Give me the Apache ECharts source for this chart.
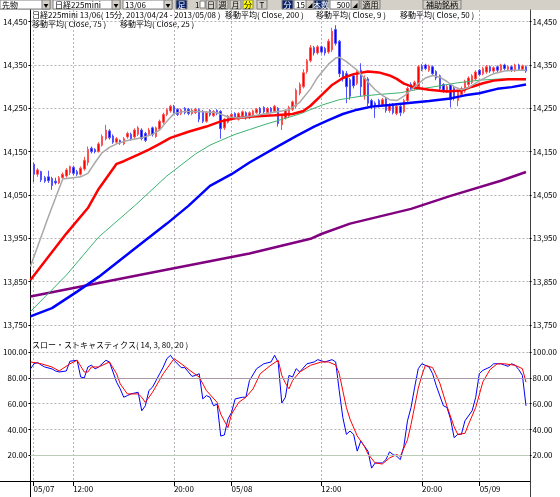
<!DOCTYPE html>
<html>
<head>
<meta charset="utf-8">
<script src="https://cdn.jsdelivr.net/npm/echarts@6/dist/echarts.min.js"></script>
<style>
html,body{margin:0;padding:0;background:#fff;}
#chart{width:560px;height:497px;}
</style>
</head>
<body>
<div id="chart"></div>
<script>
var barCount = 140;
var tickIdx = [1, 12, 40, 56, 81, 109, 125];
var tickText = ['05/07', '12:00', '20:00', '05/08', '12:00', '20:00', '05/09'];

// 15分足 [open, close, low, high]
var candles = ['-',
  [14121,14098,14080,14125],[14098,14108,14092,14112],[14104,14085,14080,14106],[14090,14082,14078,14094],
  [14092,14083,14078,14106],[14088,14072,14062,14092],[14082,14078,14074,14090],[14078,14090,14075,14094],
  [14090,14098,14086,14102],[14094,14108,14090,14112],[14102,14116,14096,14118],[14114,14100,14096,14118],
  [14104,14098,14094,14108],[14098,14112,14095,14116],[14110,14130,14106,14138],[14125,14155,14118,14162],
  [14158,14150,14146,14162],[14155,14150,14146,14158],[14150,14168,14148,14172],[14165,14185,14162,14190],
  [14180,14200,14176,14212],[14198,14182,14178,14202],[14186,14172,14168,14190],[14172,14180,14168,14184],
  [14176,14170,14166,14178],[14168,14180,14165,14184],[14184,14192,14180,14196],[14190,14180,14176,14194],
  [14184,14200,14180,14204],[14190,14205,14186,14209],[14200,14180,14176,14204],[14192,14176,14172,14196],
  [14190,14200,14186,14205],[14205,14190,14185,14208],[14185,14205,14182,14208],[14202,14220,14198,14224],
  [14218,14236,14214,14240],[14236,14247,14232,14250],[14244,14255,14240,14258],[14255,14238,14234,14258],
  [14248,14236,14232,14250],[14238,14246,14234,14249],[14250,14240,14236,14253],[14248,14238,14234,14251],
  [14238,14246,14234,14249],[14240,14248,14237,14251],[14247,14225,14218,14250],[14243,14220,14216,14246],
  [14220,14240,14217,14244],[14245,14235,14231,14248],[14233,14243,14230,14246],[14245,14238,14234,14248],
  [14243,14203,14180,14246],[14205,14225,14200,14228],[14218,14232,14215,14235],[14225,14236,14222,14240],
  [14238,14230,14226,14241],[14225,14238,14222,14241],[14232,14242,14229,14245],[14240,14228,14224,14243],
  [14228,14240,14225,14243],[14235,14244,14232,14247],[14240,14248,14237,14251],[14250,14240,14236,14253],
  [14252,14242,14238,14255],[14240,14250,14237,14253],[14250,14243,14239,14253],[14243,14255,14240,14258],
  [14250,14215,14208,14253],[14212,14232,14200,14236],[14228,14245,14224,14248],[14232,14252,14228,14256],
  [14248,14265,14244,14268],[14255,14292,14250,14296],[14285,14305,14280,14310],[14300,14332,14296,14340],
  [14335,14360,14330,14364],[14360,14390,14356,14396],[14390,14378,14372,14394],[14378,14392,14374,14396],
  [14392,14380,14376,14395],[14388,14378,14372,14392],[14380,14405,14376,14410],[14385,14428,14380,14436],
  [14432,14400,14395,14442],[14405,14330,14322,14408],[14335,14318,14312,14338],[14330,14300,14262,14336],
  [14316,14278,14270,14320],[14325,14302,14296,14330],[14308,14335,14304,14340],[14338,14300,14277,14354],
  [14280,14320,14270,14326],[14318,14262,14255,14322],[14268,14255,14248,14272],[14262,14255,14228,14266],
  [14268,14258,14252,14272],[14258,14270,14254,14274],[14272,14245,14240,14276],[14245,14258,14240,14262],
  [14258,14240,14236,14262],[14238,14255,14234,14258],[14255,14240,14232,14262],[14242,14268,14238,14272],
  [14268,14296,14264,14300],[14305,14295,14290,14310],[14296,14310,14292,14314],[14300,14346,14296,14350],
  [14348,14340,14336,14352],[14350,14342,14338,14353],[14338,14348,14334,14351],[14346,14330,14326,14349],
  [14335,14320,14315,14338],[14325,14296,14290,14328],[14305,14290,14286,14308],[14290,14300,14286,14304],
  [14304,14270,14252,14307],[14296,14273,14268,14300],[14268,14288,14255,14292],[14282,14296,14278,14300],
  [14290,14312,14286,14316],[14305,14320,14300,14324],[14310,14325,14306,14329],[14318,14334,14314,14338],
  [14338,14328,14324,14341],[14330,14342,14326,14346],[14334,14346,14330,14350],[14346,14336,14332,14349],
  [14336,14344,14332,14347],[14346,14338,14334,14349],[14338,14350,14334,14353],[14350,14342,14338,14353],
  [14340,14346,14337,14349],[14346,14338,14334,14349],[14338,14350,14334,14353],[14350,14340,14336,14353],
  [14340,14348,14337,14351],[14346,14336,14332,14349]
];

// 移動平均 [bar, value]
var ma9 = [[0,13885],[5,14000],[9,14087],[14,14092],[16,14100],[18,14125],[20,14148],[22,14160],[24,14168],
  [27,14176],[31,14182],[34,14190],[36,14200],[38,14220],[40,14238],[43,14243],[47,14243],[52,14240],[55,14230],
  [58,14228],[63,14234],[67,14240],[70,14244],[72,14247],[75,14264],[78,14295],[80,14322],[83,14352],[85,14366],
  [86,14368],[88,14358],[91,14338],[93,14320],[96,14293],[98,14280],[100,14270],[102,14268],[104,14278],[107,14300],
  [110,14320],[112,14326],[114,14322],[116,14312],[118,14300],[120,14293],[122,14298],[124,14308],[126,14318],
  [129,14330],[132,14336],[135,14338],[138,14338]];
var ma25 = [[0,13854],[10,13961],[16,14020],[19,14064],[24,14122],[26,14128],[30,14143],[33,14155],[36,14168],
  [39,14182],[44,14196],[49,14208],[53,14220],[57,14227],[62,14231],[68,14234],[73,14237],[76,14244],[78,14256],
  [81,14280],[84,14304],[87,14320],[90,14329],[94,14335],[97,14333],[100,14326],[102,14318],[104,14307],[107,14298],
  [111,14293],[116,14289],[120,14291],[123,14300],[126,14308],[129,14314],[133,14317],[138,14317]];
var ma50 = [[0,13781],[10,13865],[19,13953],[29,14025],[38,14094],[46,14145],[50,14165],[53,14176],[57,14190],
  [61,14201],[65,14212],[69,14222],[75,14237],[81,14257],[86,14270],[92,14278],[97,14282],[103,14286],[108,14294],
  [114,14302],[119,14309],[125,14315],[131,14318],[138,14316]];
var ma75 = [[0,13770],[6,13789],[13,13827],[19,13861],[29,13926],[38,13984],[44,14025],[50,14071],[56,14098],
  [61,14125],[69,14163],[74,14186],[79,14208],[83,14223],[87,14237],[91,14247],[95,14254],[100,14258],[106,14263],
  [111,14267],[117,14273],[121,14280],[125,14285],[130,14295],[134,14299],[138,14305]];
var ma200 = [[0,13816],[30,13865],[61,13915],[78,13949],[81,13960],[89,13984],[106,14018],[117,14048],[131,14083],
  [138,14103]];

// スロー・ストキャスティクス
var stochK = [[0,87],[1,91],[2,92],[3,90],[4,88.5],[6,87],[7,85.4],[8,84.6],[10,85.4],[11,93],[13,93.7],[14,80.7],
  [15,80],[16,88.5],[17,90],[18,87],[19,88.5],[21,93.7],[22,92.4],[23,84.6],[24,76.7],[25,71.5],[26,65],[27,66.3],
  [28,67.6],[30,68.9],[31,54.5],[32,58.4],[33,70.2],[34,72.8],[36,83.3],[37,88.5],[38,95],[39,97.6],[40,93.7],
  [42,88],[43,88],[45,81.2],[46,82],[47,83.3],[48,63.7],[49,66.3],[50,65],[51,58.4],[52,59.7],[53,34.9],[54,35.7],
  [55,48],[56,53.2],[57,63.7],[59,65],[60,65],[61,78],[63,87.2],[65,91],[67,92.4],[68,97.6],[69,92],[70,60.5],
  [71,65],[72,82],[73,80.7],[74,87.2],[75,84.6],[77,91],[79,92.4],[80,94.2],[82,92.4],[84,94.2],[85,92.4],[86,70],
  [87,49.3],[88,36.2],[89,38.8],[90,36.2],[91,23.2],[92,31],[93,27],[94,23.2],[95,10],[96,14],[98,14],[99,16.6],
  [100,22.6],[101,20.5],[102,19.2],[103,16.6],[104,27],[105,46.7],[106,57.1],[107,72.8],[108,87.2],[109,91],
  [111,88.5],[112,83.3],[113,74.1],[115,58.4],[116,57.1],[117,48],[118,33.6],[119,36.2],[120,36.2],[121,46.7],
  [123,54.5],[124,65],[125,83.3],[126,85.9],[128,88.5],[129,91],[131,91],[132,90],[133,89],[134,91],[135,89.8],
  [136,86.4],[137,82],[138,58.4]];
var stochD = [[0,92.4],[3,91],[6,88.5],[8,85.4],[11,91],[13,93.7],[15,84.6],[16,84.6],[17,88.5],[19,88.5],
  [22,92.4],[24,83.3],[25,75.4],[27,67.6],[30,67.6],[31,65],[32,61],[34,68.9],[37,83.3],[40,95],[42,91],[45,84.6],
  [47,80.7],[49,70.2],[52,61],[53,51.9],[55,41.4],[56,51.9],[58,61],[60,65],[62,71.5],[64,83.3],[67,90],[69,93.7],
  [70,82],[71,76],[72,71.5],[73,78],[75,84.6],[78,89.8],[81,92.4],[83,92.4],[85,90],[86,83.3],[87,70],[88,57],
  [89,48],[91,35],[93,27],[94,21],[96,14],[98,13.2],[100,17.9],[102,20.5],[103,19.2],[105,32],[106,44],[107,58],
  [108,72],[109,82],[110,89.8],[112,88],[114,76],[116,58],[118,42],[119,36.2],[121,37],[122,44],[124,57.1],
  [126,77],[128,86.5],[130,91],[132,91],[135,89.8],[137,87.2],[138,76.7]];
var stochLevels = [80, 20];

var titleLine1 = ['日経225mini 13/06( 15分, 2013/04/24 - 2013/05/08 )', '移動平均( Close, 200 )', '移動平均( Close, 9 )', '移動平均( Close, 50 )'];
var titleLine2 = ['移動平均( Close, 75 )', '移動平均( Close, 25 )'];
var stochTitle = 'スロー・ストキャスティクス( 14, 3, 80, 20 )';

var categories = [];
for (var i = 0; i < barCount; i++) categories.push(String(i));

var FONT = '"Noto Sans CJK JP", sans-serif';
var gridDash = {color: '#b8b0b8', type: [2, 2], width: 1};

function isTick(idx) { return tickIdx.indexOf(idx) >= 0; }
function tickLabel(v, idx) { var k = tickIdx.indexOf(idx); return k < 0 ? '' : tickText[k]; }
function yen(v) { return v.toLocaleString('en-US'); }

function priceAxis(pos) {
  return {
    type: 'value', gridIndex: 0, position: pos, min: 13750, max: 14477, interval: 100,
    axisLine: {show: false},
    axisTick: {show: true, length: 2, lineStyle: {color: '#000'}},
    axisLabel: {color: '#000', fontSize: 8, fontFamily: FONT, margin: 3, formatter: yen, showMaxLabel: false},
    splitLine: {show: pos === 'left', showMaxLine: false, lineStyle: gridDash}
  };
}
function stochAxis(pos) {
  return {
    type: 'value', gridIndex: 1, position: pos, min: 0, max: 111, interval: 20,
    axisLine: {show: false},
    axisTick: {show: true, length: 2, lineStyle: {color: '#000'}},
    axisLabel: {color: '#000', fontSize: 8, fontFamily: FONT, margin: 3, showMinLabel: false, showMaxLabel: false,
      formatter: function (v) { return v.toFixed(2); }},
    splitLine: {show: pos === 'left', showMinLine: false, showMaxLine: false, lineStyle: gridDash}
  };
}
function hiddenX(g) {
  return {type: 'category', gridIndex: g, data: categories, boundaryGap: false, show: false};
}

// ツールバー
var toolbar = [
  {kind: 'combo', x: 0, w: 50, text: '先物'},
  {kind: 'combo', x: 53, w: 67, text: '日経225mini'},
  {kind: 'combo', x: 123, w: 49, text: '13/06'},
  {kind: 'navy', x: 176, w: 11, text: '足'},
  {kind: 'label', x: 195, w: 5, text: '1'},
  {kind: 'btn', x: 206, w: 10, text: '日'},
  {kind: 'btn', x: 217, w: 11, text: '週'},
  {kind: 'btn', x: 230, w: 11, text: '月'},
  {kind: 'yellow', x: 243, w: 10, text: '分'},
  {kind: 'btn', x: 257, w: 10, text: 'T'},
  {kind: 'navy', x: 282, w: 11, text: '分'},
  {kind: 'spin', x: 294, w: 20, text: '15'},
  {kind: 'navy', x: 314, w: 14, text: '本数'},
  {kind: 'spin', x: 330, w: 29, text: '500'},
  {kind: 'btn', x: 361, w: 19, text: '適用'},
  {kind: 'btn', x: 423, w: 38, text: '補助銘柄'}
];

var graphic = [{type: 'rect', shape: {x: 0, y: 0, width: 560, height: 10}, style: {fill: '#d4d0c8'}, z: 0}];
toolbar.forEach(function (t) {
  var tf = {fill: '#000', font: '8px ' + FONT, verticalAlign: 'middle', align: 'left'};
  if (t.kind === 'combo' || t.kind === 'spin') {
    graphic.push({type: 'rect', shape: {x: t.x, y: 0, width: t.w, height: 9}, style: {fill: '#fff', stroke: '#808080', lineWidth: 1}});
    graphic.push({type: 'rect', shape: {x: t.x + t.w - 8, y: 0, width: 8, height: 9}, style: {fill: '#d4d0c8', stroke: '#808080', lineWidth: 1}});
    graphic.push({type: 'text', style: {x: t.x + t.w - 4, y: 5, text: t.kind === 'combo' ? '▼' : '◢', fill: '#000', font: '5px ' + FONT, align: 'center', verticalAlign: 'middle'}});
    graphic.push({type: 'text', style: Object.assign({}, tf, {x: t.kind === 'combo' ? t.x + 2 : t.x + t.w - 9, y: 5, text: t.text, align: t.kind === 'combo' ? 'left' : 'right'})});
  } else if (t.kind === 'label') {
    graphic.push({type: 'text', style: Object.assign({}, tf, {x: t.x, y: 5, text: t.text})});
    graphic.push({type: 'rect', shape: {x: t.x + 5, y: 1, width: 5, height: 7}, style: {fill: '#fff', stroke: '#808080', lineWidth: 1}});
  } else {
    var bg = t.kind === 'navy' ? '#0a246a' : (t.kind === 'yellow' ? '#ffff00' : '#d4d0c8');
    graphic.push({type: 'rect', shape: {x: t.x, y: 0, width: t.w, height: 9}, style: {fill: bg, stroke: '#808080', lineWidth: 1}});
    graphic.push({type: 'text', style: Object.assign({}, tf, {x: t.x + t.w / 2, y: 5, text: t.text, align: 'center', fill: t.kind === 'navy' ? '#fff' : '#000'})});
  }
});

// 凡例テキスト
var line1X = [32, 225, 316, 400];
titleLine1.forEach(function (s, k) {
  graphic.push({type: 'text', style: {x: line1X[k], y: 15, text: s, fill: '#000', font: '8px ' + FONT, verticalAlign: 'middle'}});
});
var line2X = [32, 120];
titleLine2.forEach(function (s, k) {
  graphic.push({type: 'text', style: {x: line2X[k], y: 24, text: s, fill: '#000', font: '8px ' + FONT, verticalAlign: 'middle'}});
});
graphic.push({type: 'text', style: {x: 32, y: 345, text: stochTitle, fill: '#000', font: '8px ' + FONT, verticalAlign: 'middle'}});
graphic.push({type: 'line', shape: {x1: 0, y1: 481.5, x2: 30, y2: 481.5}, style: {stroke: '#000', lineWidth: 1}});

function maLine(name, data, color, width) {
  return {
    name: name, type: 'line', xAxisIndex: 0, yAxisIndex: 0, data: data, symbol: 'none',
    lineStyle: {color: color, width: width}, z: 3, animation: false
  };
}

var option = {
  animation: false,
  backgroundColor: '#fff',
  textStyle: {fontFamily: FONT},
  grid: [
    {left: 30, right: 30, top: 10, bottom: 172},
    {left: 30, right: 30, top: 338, bottom: 16},
    {left: 30, right: 30, top: 10, bottom: 16},
    {left: 30, right: 30, top: 10, bottom: 0}
  ],
  xAxis: [
    hiddenX(0),
    hiddenX(1),
    {
      type: 'category', gridIndex: 2, data: categories, boundaryGap: false, position: 'bottom',
      axisLine: {lineStyle: {color: '#000', width: 1}},
      axisTick: {interval: function (idx) { return isTick(idx); }, length: 5, lineStyle: {color: '#000'}},
      axisLabel: {interval: function (idx) { return isTick(idx); }, formatter: tickLabel, align: 'left',
        color: '#000', fontSize: 8, fontFamily: FONT, margin: 4},
      splitLine: {show: true, interval: function (idx) { return isTick(idx); }, lineStyle: gridDash}
    },
    hiddenX(3)
  ],
  yAxis: [
    priceAxis('left'), priceAxis('right'),
    stochAxis('left'), stochAxis('right'),
    {type: 'value', gridIndex: 2, show: false, min: 0, max: 1},
    {type: 'value', gridIndex: 3, position: 'left', min: 0, max: 1, axisLine: {show: true, lineStyle: {color: '#000'}},
      axisTick: {show: false}, axisLabel: {show: false}, splitLine: {show: false}},
    {type: 'value', gridIndex: 3, position: 'right', min: 0, max: 1, axisLine: {show: true, lineStyle: {color: '#404040'}},
      axisTick: {show: false}, axisLabel: {show: false}, splitLine: {show: false}}
  ],
  graphic: graphic,
  series: [
    {
      name: '日経225mini', type: 'candlestick', xAxisIndex: 0, yAxisIndex: 0, data: candles,
      barWidth: 2, z: 2,
      itemStyle: {color: '#ff0000', color0: '#0000ff', borderColor: '#ff5050', borderColor0: '#5050ff', borderWidth: 1}
    },
    maLine('MA200', ma200, '#800080', 2.5),
    maLine('MA75', ma75, '#0000ff', 2.5),
    maLine('MA50', ma50, '#3cb371', 1),
    maLine('MA25', ma25, '#ff0000', 2.5),
    maLine('MA9', ma9, '#a8a8a8', 1.5),
    {
      name: '%K', type: 'line', xAxisIndex: 1, yAxisIndex: 2, data: stochK, symbol: 'none',
      lineStyle: {color: '#0000ff', width: 1}, z: 3,
      markLine: {
        symbol: 'none', silent: true, label: {show: false}, animation: false,
        data: stochLevels.map(function (v, k) {
          return {yAxis: v, lineStyle: {type: 'solid', width: 1, color: k === 0 ? '#a898a8' : '#b8ccb8'}};
        })
      }
    },
    {
      name: '%D', type: 'line', xAxisIndex: 1, yAxisIndex: 2, data: stochD, symbol: 'none',
      lineStyle: {color: '#ff0000', width: 1}, z: 3
    }
  ]
};

var chart = echarts.init(document.getElementById('chart'), null, {renderer: 'canvas'});
chart.setOption(option);
</script>
</body>
</html>
